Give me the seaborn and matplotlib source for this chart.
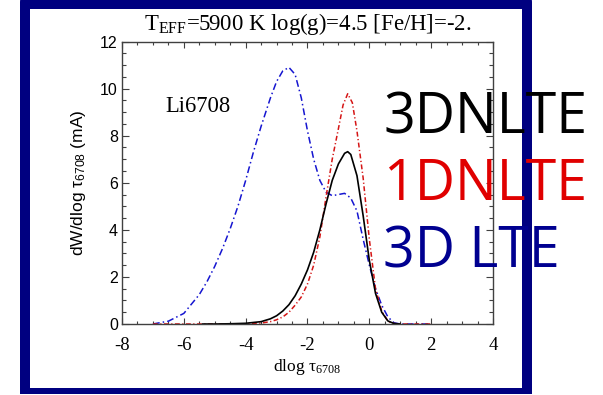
import numpy as np
import pandas as pd
import seaborn as sns
import matplotlib
matplotlib.use("Agg")
import matplotlib.pyplot as plt
from matplotlib.patches import FancyBboxPatch, Rectangle
from matplotlib.ticker import MultipleLocator

# ---- contribution functions dW/dlog tau for the Li 6708 line ----
tau_3dlte = [-7.0, -6.5, -6.0, -5.5, -5.25, -5.0, -4.75, -4.5, -4.25, -4.0, -3.75, -3.5,
             -3.2, -3.0, -2.8, -2.6, -2.4, -2.2, -2.0, -1.8, -1.6, -1.4, -1.2, -1.0,
             -0.8, -0.6, -0.4, -0.2, 0.0, 0.2, 0.4, 0.6, 0.8, 1.0, 1.5, 2.0]
dw_3dlte = [0.0, 0.12, 0.45, 1.25, 1.8, 2.45, 3.2, 4.05, 5.0, 6.1, 7.3, 8.4,
            9.6, 10.3, 10.75, 10.9, 10.6, 9.6, 8.2, 7.0, 6.1, 5.6, 5.45, 5.5,
            5.55, 5.35, 4.8, 3.6, 2.5, 1.5, 0.8, 0.3, 0.05, 0.0, 0.0, 0.0]

tau_1dnlte = [-7.0, -6.0, -5.0, -4.0, -3.5, -3.2, -3.0, -2.8, -2.6, -2.4, -2.2, -2.0,
              -1.8, -1.6, -1.4, -1.2, -1.0, -0.85, -0.7, -0.55, -0.4, -0.2, 0.0, 0.2,
              0.4, 0.6, 0.8, 1.0, 1.5, 2.0]
dw_1dnlte = [0.0, 0.0, 0.0, 0.01, 0.04, 0.1, 0.18, 0.3, 0.5, 0.8, 1.15, 1.7,
             2.5, 3.7, 5.4, 7.0, 8.3, 9.3, 9.78, 9.4, 8.2, 6.2, 3.6, 1.5,
             0.55, 0.12, 0.02, 0.0, 0.0, 0.0]

tau_3dnlte = [-5.4, -5.0, -4.5, -4.0, -3.5, -3.2, -3.0, -2.8, -2.6, -2.4, -2.2, -2.0,
              -1.8, -1.6, -1.4, -1.2, -1.0, -0.8, -0.7, -0.6, -0.4, -0.2, 0.0, 0.2,
              0.4, 0.6, 0.8, 1.0]
dw_3dnlte = [0.0, 0.0, 0.01, 0.03, 0.1, 0.22, 0.35, 0.55, 0.82, 1.2, 1.7, 2.3,
             3.05, 4.0, 5.1, 6.1, 6.8, 7.25, 7.32, 7.2, 6.3, 4.6, 2.7, 1.3,
             0.5, 0.13, 0.02, 0.0]

series_names = ["3DNLTE", "1DNLTE", "3D LTE"]
series_colors = ["black", "#e00000", "#000090"]
x_ticks = [-8, -6, -4, -2, 0, 2, 4]
y_ticks = [0, 2, 4, 6, 8, 10, 12]

sns.set_style("white")
plt.rcParams["axes.unicode_minus"] = False
plt.rcParams["font.family"] = ["Liberation Sans", "DejaVu Sans"]
plt.rcParams["text.color"] = "black"
plt.rcParams["axes.labelcolor"] = "black"
plt.rcParams["xtick.color"] = "black"
plt.rcParams["ytick.color"] = "black"

W, H = 603, 395
fig = plt.figure(figsize=(W / 100, H / 100), dpi=100, facecolor="white")


def px(x, y):
    """pixel position (from top-left) -> inches for dpi_scale_trans"""
    return x / 100, (H - y) / 100


# navy slide frame
navy = "#000080"
x0, y0 = px(20, 394)
fig.add_artist(FancyBboxPatch((x0, y0), 5.12, 3.94 + 0.05,
                              boxstyle="round,pad=0,rounding_size=0.07",
                              transform=fig.dpi_scale_trans,
                              facecolor=navy, edgecolor="none", zorder=-3))
fig.add_artist(Rectangle((x0, y0), 5.12, 1.5, transform=fig.dpi_scale_trans,
                         facecolor=navy, edgecolor="none", zorder=-3))
xi, yi = px(30, 388)
fig.add_artist(Rectangle((xi, yi), (522 - 30) / 100, (388 - 9) / 100,
                         transform=fig.dpi_scale_trans,
                         facecolor="white", edgecolor="none", zorder=-2))

ax = fig.add_axes([122 / W, (H - 324) / H, (493 - 122) / W, (324 - 41.5) / H])
ax.set_facecolor("white")

ls_dashdot_blue = (0, (4.5, 2.0, 1.0, 2.0))
ls_dashdot_red = (0, (3.2, 1.6, 0.8, 1.6))

sns.lineplot(x=tau_3dlte, y=dw_3dlte, ax=ax, color="#1515d0", lw=1.1,
             linestyle=ls_dashdot_blue)
sns.lineplot(x=tau_1dnlte, y=dw_1dnlte, ax=ax, color="#d51515", lw=1.1,
             linestyle=ls_dashdot_red)
sns.lineplot(x=tau_3dnlte, y=dw_3dnlte, ax=ax, color="black", lw=1.2)

ax.set_xlim(-8, 4)
ax.set_ylim(0, 12)
ax.set_xticks(x_ticks)
ax.set_yticks(y_ticks)
ax.xaxis.set_minor_locator(MultipleLocator(0.5))
ax.yaxis.set_minor_locator(MultipleLocator(0.5))
ax.tick_params(which="both", direction="in", top=True, right=True,
               bottom=True, left=True, color="#404040", width=0.8,
               labelcolor="black")
ax.tick_params(axis="x", which="major", length=4.0, pad=9)
ax.tick_params(axis="x", which="minor", length=2.2)
ax.tick_params(axis="y", which="major", length=5.0, pad=3)
ax.tick_params(axis="y", which="minor", length=2.8)
for s in ax.spines.values():
    s.set_color("#404040")
    s.set_linewidth(1.0)

for lab in ax.get_xticklabels():
    lab.set_fontfamily("Liberation Serif")
    lab.set_fontsize(13.5)
for lab in ax.get_yticklabels():
    lab.set_fontfamily("Liberation Sans")
    lab.set_fontsize(11.5)

ax.set_xlabel(r"dlog τ$\mathregular{_{6708}}$", family="Liberation Serif",
              fontsize=12.5, color="black")
ax.xaxis.set_label_coords(0.5, -0.1155)
ax.set_ylabel(r"dW/dlog τ$\mathregular{_{6708}}$ (mA)", family="Liberation Sans",
              fontsize=12.5, color="black")
ax.yaxis.set_label_coords(-0.092, 0.5)

ax.set_title(r"T$\mathregular{_{EFF}}$=5900 K log(g)=4.5 [Fe/H]=-2.",
             family="Liberation Serif", fontsize=16.4, pad=8.3, color="black")

ax.text(-6.6, 9.0, "Li6708", family="Liberation Serif", fontsize=16.3,
        ha="left", va="baseline", color="black")

# model labels
for name, col, base in zip(series_names, series_colors, [133, 200, 268]):
    fx, fy = px(383, base)
    fig.text(fx / (W / 100), fy / (H / 100), name, color=col, family="Open Sans",
             fontsize=40, ha="left", va="baseline", zorder=5)

fig.savefig("out.png", dpi=100, facecolor="white")
